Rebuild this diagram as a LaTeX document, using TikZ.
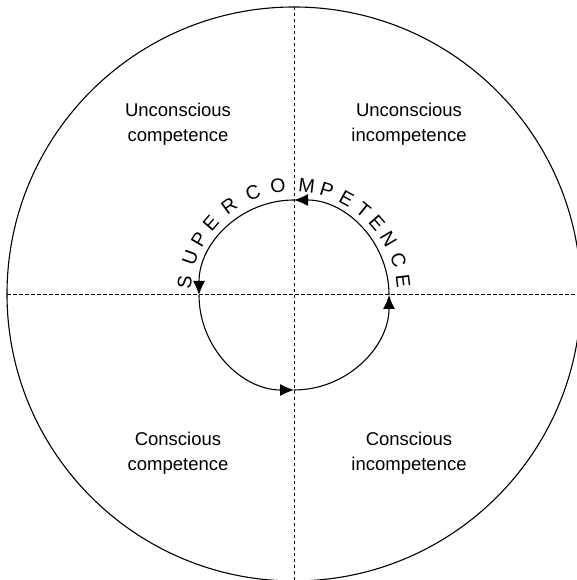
\documentclass[tikz,border=0pt]{standalone}
\usepackage{fontspec}
\setmainfont{Liberation Sans}
\usetikzlibrary{arrows.meta}
\begin{document}
\begin{tikzpicture}[x=1pt,y=1pt,
  axis/.style={line width=0.9pt,dash pattern=on 3.5pt off 2.5pt},
  ring/.style={line width=1.1pt},
  flow/.style={line width=1.1pt,-{Latex[length=14pt,width=12pt]}},
  label/.style={align=center,font=\fontsize{18.5}{25.5}\selectfont},
  arcletter/.style={inner sep=0pt,font=\fontsize{19.5}{20}\selectfont}]
\clip (0,0) rectangle (577,580);
\fill[white] (0,0) rectangle (577,580);
% big circle and axes
\coordinate (O) at (294,286);
\draw[ring] (O) circle[radius=287];
\coordinate (axL) at (7,286);
\coordinate (axR) at (581,286);
\coordinate (axT) at (294,573);
\coordinate (axB) at (294,-1);
\draw[axis] (axL) -- (axR);
\draw[axis] (axT) -- (axB);
% inner cycle
\coordinate (C) at (294,285);
\coordinate (pR) at (389,285);
\coordinate (pT) at (294,380);
\coordinate (pL) at (199,285);
\coordinate (pB) at (294,190);
\draw[flow] (pB) arc[start angle=-90,end angle=0,radius=95];
\draw[flow] (pR) arc[start angle=0,end angle=90,radius=95];
\draw[flow] (pT) arc[start angle=90,end angle=180,radius=95];
\draw[flow] (pL) arc[start angle=180,end angle=270,radius=95];
% curved word
\foreach \a/\l [count=\i] in {173.2/S,160.4/U,149.7/P,139.2/E,126.2/R,111.9/C,98.4/O,83.3/M,72.7/P,61.5/E,50.9/T,41/E,30.7/N,18.3/C,7/E}
  \node[arcletter,rotate=\a-90] (L\i) at ([shift={(\a:110)}]C) {\l};
% quadrant labels
\node[label] (uc) at (178,456) {Unconscious\\competence};
\node[label] (ui) at (409,456) {Unconscious\\incompetence};
\node[label] (cc) at (178,127) {Conscious\\competence};
\node[label] (ci) at (409,127) {Conscious\\incompetence};
\end{tikzpicture}
\end{document}
